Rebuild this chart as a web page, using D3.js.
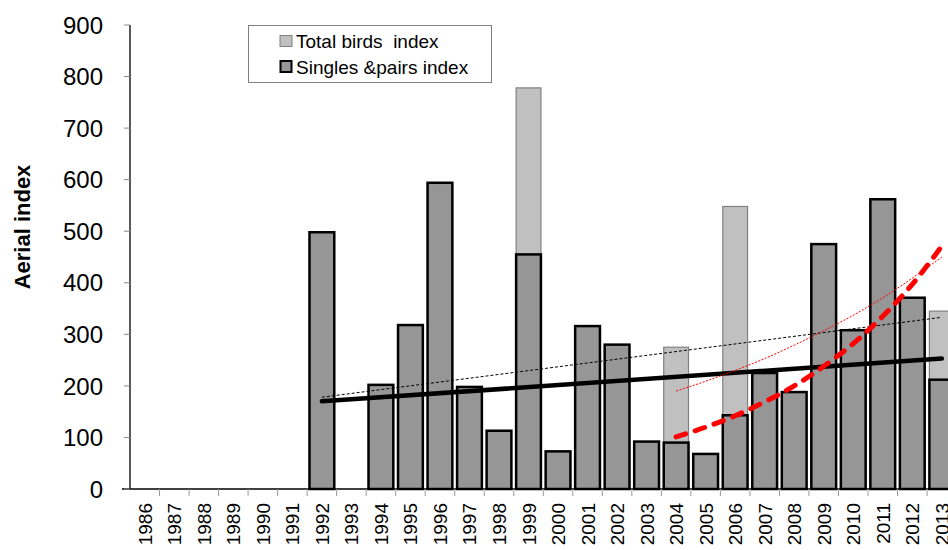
<!DOCTYPE html>
<html lang="en">
<head>
    <meta charset="UTF-8">
    <title>Aerial index</title>
    <script src="https://d3js.org/d3.v7.min.js"></script>
    <style>
        body { margin: 0; background: #fff; }
        text { font-family: "Liberation Sans", Arial, sans-serif; }
        .legend text { white-space: pre; }
    </style>
</head>
<body>
    <div id="chart"></div>
    <script>
        // categories
        const years = d3.range(1986, 2014).map(String);

        // Singles & pairs index (null = no survey)
        const singles = [null, null, null, null, null, null, 498, null, 202, 318,
                         594, 198, 113, 455, 73, 316, 280, 92, 90, 68,
                         143, 225, 188, 475, 308, 562, 371, 212];
        // Total birds index
        const totals  = [null, null, null, null, null, null, 498, null, 202, 318,
                         594, 198, 113, 778, 73, 316, 280, 92, 275, 68,
                         548, 225, 188, 475, 308, 562, 371, 345];

        // trend lines
        const trendLinYears = ["1992", "2013"];
        const trendSingles  = [170, 253];
        const trendTotals   = [178, 333];
        const trendExpYears = ["2004", "2005", "2006", "2007", "2008", "2009", "2010", "2011", "2012", "2013"];
        const expSingles    = [101, 120, 142, 169, 200, 238, 282, 335, 397, 471];
        const expTotals     = [190, 209, 230, 253, 279, 307, 337, 371, 409, 450];

        const yTicks = d3.range(0, 901, 100);

        const W = 948, H = 550;
        const plotLeft = 130, plotTop = 25, plotBottom = 489;
        const step = 29.52;
        const plotRight = plotLeft + step * years.length;

        const svg = d3.select("#chart").append("svg")
            .attr("width", W)
            .attr("height", H);

        const x = d3.scaleBand()
            .domain(years)
            .range([plotLeft, plotRight])
            .paddingInner(0.16)
            .paddingOuter(0.08);
        const y = d3.scaleLinear()
            .domain([0, 900])
            .range([plotBottom, plotTop]);

        const cx = d => x(d) + x.bandwidth() / 2;

        // total birds bars (behind)
        svg.append("g").selectAll("rect")
            .data(years.map((yr, i) => ({yr, v: totals[i]})).filter(d => d.v != null))
          .enter().append("rect")
            .attr("x", d => x(d.yr))
            .attr("width", x.bandwidth())
            .attr("y", d => y(d.v))
            .attr("height", d => plotBottom - y(d.v))
            .attr("fill", "#c0c0c0")
            .attr("stroke", "#808080")
            .attr("stroke-width", 1.2);

        // singles & pairs bars
        svg.append("g").selectAll("rect")
            .data(years.map((yr, i) => ({yr, v: singles[i]})).filter(d => d.v != null))
          .enter().append("rect")
            .attr("x", d => x(d.yr))
            .attr("width", x.bandwidth())
            .attr("y", d => y(d.v))
            .attr("height", d => plotBottom - y(d.v))
            .attr("fill", "#969696")
            .attr("stroke", "#000")
            .attr("stroke-width", 2.5);

        // axes
        svg.append("line")
            .attr("x1", plotLeft).attr("x2", plotLeft)
            .attr("y1", plotTop).attr("y2", plotBottom)
            .attr("stroke", "#000").attr("stroke-width", 1.3);
        svg.append("line")
            .attr("x1", 122).attr("x2", W)
            .attr("y1", plotBottom).attr("y2", plotBottom)
            .attr("stroke", "#000").attr("stroke-width", 1.3);

        // y ticks + labels
        const yg = svg.append("g");
        yg.selectAll("line")
            .data(yTicks)
          .enter().append("line")
            .attr("x1", 124).attr("x2", plotLeft)
            .attr("y1", d => y(d)).attr("y2", d => y(d))
            .attr("stroke", "#888").attr("stroke-width", 1);
        yg.selectAll("text")
            .data(yTicks)
          .enter().append("text")
            .attr("x", 103)
            .attr("y", d => y(d))
            .attr("dy", "0.36em")
            .attr("text-anchor", "end")
            .style("font-size", "24px")
            .text(d => d);

        // x ticks at category boundaries
        svg.append("g").selectAll("line")
            .data(years.slice(1))
          .enter().append("line")
            .attr("x1", d => x(d) - x.step() * x.paddingInner() / 2)
            .attr("x2", d => x(d) - x.step() * x.paddingInner() / 2)
            .attr("y1", plotBottom).attr("y2", plotBottom + 7)
            .attr("stroke", "#999").attr("stroke-width", 1);

        // x labels
        svg.append("g").selectAll("text")
            .data(years)
          .enter().append("text")
            .attr("transform", d => "translate(" + (cx(d) + 7) + ",503) rotate(-90)")
            .attr("text-anchor", "end")
            .style("font-size", "19px")
            .text(d => d);

        // y axis title
        svg.append("text")
            .attr("transform", "translate(30,227) rotate(-90)")
            .attr("text-anchor", "middle")
            .style("font-size", "22px")
            .style("font-weight", "bold")
            .text("Aerial index");

        // linear trends
        const line = d3.line().x(d => cx(d[0])).y(d => y(d[1]));
        const curve = d3.line().x(d => cx(d[0])).y(d => y(d[1])).curve(d3.curveMonotoneX);

        svg.append("path")
            .attr("d", line(d3.zip(trendLinYears, trendTotals)))
            .attr("fill", "none")
            .attr("stroke", "#000")
            .attr("stroke-width", 1)
            .attr("stroke-dasharray", "3,2");
        svg.append("path")
            .attr("d", line(d3.zip(trendLinYears, trendSingles)))
            .attr("fill", "none")
            .attr("stroke", "#000")
            .attr("stroke-width", 4.5)
            .attr("stroke-linecap", "round");

        // exponential trends (2004-2013)
        svg.append("path")
            .attr("d", curve(d3.zip(trendExpYears, expTotals)))
            .attr("fill", "none")
            .attr("stroke", "#ff0000")
            .attr("stroke-width", 1)
            .attr("stroke-dasharray", "2,1.5");
        svg.append("path")
            .attr("d", curve(d3.zip(trendExpYears, expSingles)))
            .attr("fill", "none")
            .attr("stroke", "#ff0000")
            .attr("stroke-width", 5)
            .attr("stroke-linecap", "round")
            .attr("stroke-dasharray", "10,10");

        // legend
        const lg = svg.append("g").attr("class", "legend");
        lg.append("rect")
            .attr("x", 248.5).attr("y", 25.5)
            .attr("width", 243).attr("height", 57)
            .attr("fill", "#fff")
            .attr("stroke", "#808080").attr("stroke-width", 1);
        lg.append("rect")
            .attr("x", 280).attr("y", 35.5)
            .attr("width", 12).attr("height", 11)
            .attr("fill", "#c0c0c0").attr("stroke", "#808080").attr("stroke-width", 1);
        lg.append("rect")
            .attr("x", 280.5).attr("y", 61)
            .attr("width", 11).attr("height", 11)
            .attr("fill", "#969696").attr("stroke", "#000").attr("stroke-width", 2);
        lg.append("text")
            .attr("x", 296).attr("y", 47.5)
            .style("font-size", "19px")
            .text("Total birds  index");
        lg.append("text")
            .attr("x", 296).attr("y", 74)
            .style("font-size", "19px")
            .text("Singles &pairs index");
    </script>
</body>
</html>
